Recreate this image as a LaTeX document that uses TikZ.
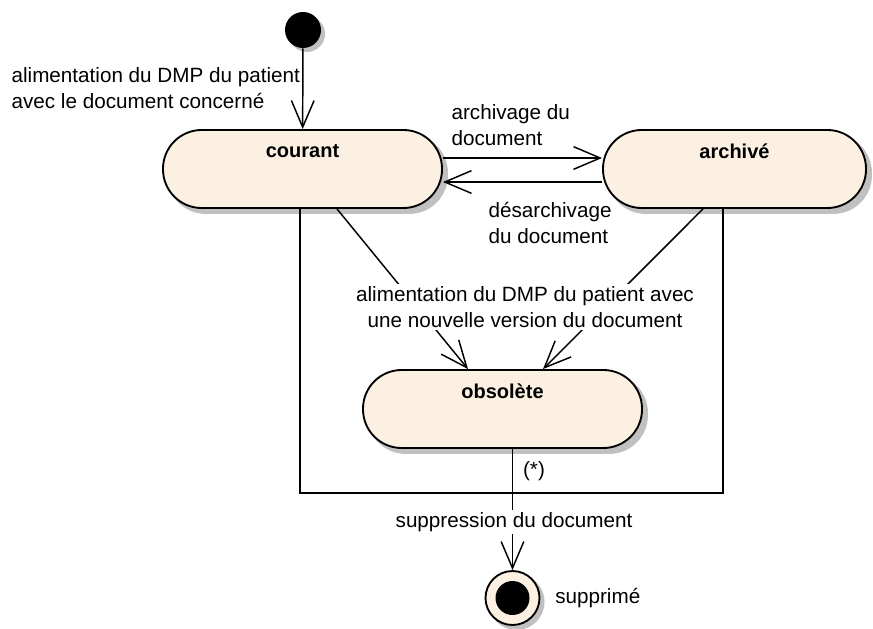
\documentclass[tikz,border=0pt]{standalone}
\usepackage{fontspec}
\setmainfont{Liberation Sans}
\usepackage{tikz}
\usetikzlibrary{arrows.meta,calc,positioning,backgrounds}
\definecolor{statefill}{RGB}{251,240,225}
\definecolor{shadowgray}{RGB}{192,192,192}
\tikzset{
state box/.style={draw, line width=1.4pt, fill=statefill, rounded corners=29pt, minimum height=58.5pt}, % a state of the document
state name/.style={anchor=center, yshift=-16.5pt, font=\fontsize{15}{19}\selectfont\bfseries}, % name at the top of a state
trans/.style={line width=1.1pt, -{Straight Barb[length=20pt,width=17pt,line width=1.1pt]}}, % open arrow head
plain/.style={line width=1.1pt},
tlabel/.style={align=left, inner sep=1pt},
}

\begin{document}
\begin{tikzpicture}[x=0.75pt,y=0.75pt,yscale=-1,xscale=1,font=\fontsize{15.5}{19}\selectfont]
\useasboundingbox (0,0) rectangle (873,628);
%Initial state
\node (init) at (303,30) [circle, fill=black, minimum size=27pt] {};
%Rounded Rect
\node (courant) at (302.5,169) [state box, minimum width=209.25pt, label={[state name]north:courant}] {};
\node (archive) at (734.5,169) [state box, minimum width=197.25pt, label={[state name]north:archivé}] {};
\node (obsolete) at (502.5,409) [state box, minimum width=209.25pt, label={[state name]north:obsolète}] {};
%Final state
\node (final) at (512.5,598) [circle, draw, line width=1.4pt, fill=statefill, minimum size=40.5pt] {};
\node (finaldot) at (final) [circle, fill=black, minimum size=25.5pt] {};
\coordinate (merge) at (512.5,493);

%Shadows
\begin{pgfonlayer}{background}
\foreach \s in {courant,archive,obsolete}
  \fill[shadowgray, rounded corners=29pt] ($(\s.north west)+(5,5)$) rectangle ($(\s.south east)+(5,5)$);
\fill[shadowgray] ($(init)+(4,4)$) circle (18);
\fill[shadowgray] ($(final)+(4,4)$) circle (28);
\end{pgfonlayer}

\draw[trans] (init) -- (courant);
\draw[trans] ($(courant.east)+(0,-11)$) -- ($(archive.west)+(0,-11)$);
\draw[trans] ($(archive.west)+(0,13)$) -- ($(courant.east)+(0,13)$);
\draw[trans] ($(courant.south)+(34.5,0)$) -- ($(obsolete.north)+(-34.5,0)$);
\draw[trans] ($(archive.south)+(-31.5,0)$) -- ($(obsolete.north)+(40.5,0)$);
\draw[plain] ($(courant.south)+(-2.5,0)$) |- (merge) -| ($(archive.south)+(-11.5,0)$);
\draw[trans] (obsolete.south -| final.north) -- (final.north);

%Labels
\node (lbinit) at (10,88) [tlabel, anchor=west] {alimentation du DMP du patient\\avec le document concerné};
\node (lbarch) at (450,125) [tlabel, anchor=west] {archivage du\\document};
\node (lbdesarch) at (487,223) [tlabel, anchor=west] {désarchivage\\du document};
\node (lbnew) at (525,307) [align=center, fill=white, inner sep=2pt] {alimentation du DMP du patient avec\\une nouvelle version du document};
\node (lbstar) at (534,471) {(*)};
\node (lbsupp) at (514,522) [fill=white, inner sep=2pt] {suppression du document};
\node (lbfinal) at (555,598) [anchor=west, inner sep=0pt] {supprimé};
\end{tikzpicture}
\end{document}
